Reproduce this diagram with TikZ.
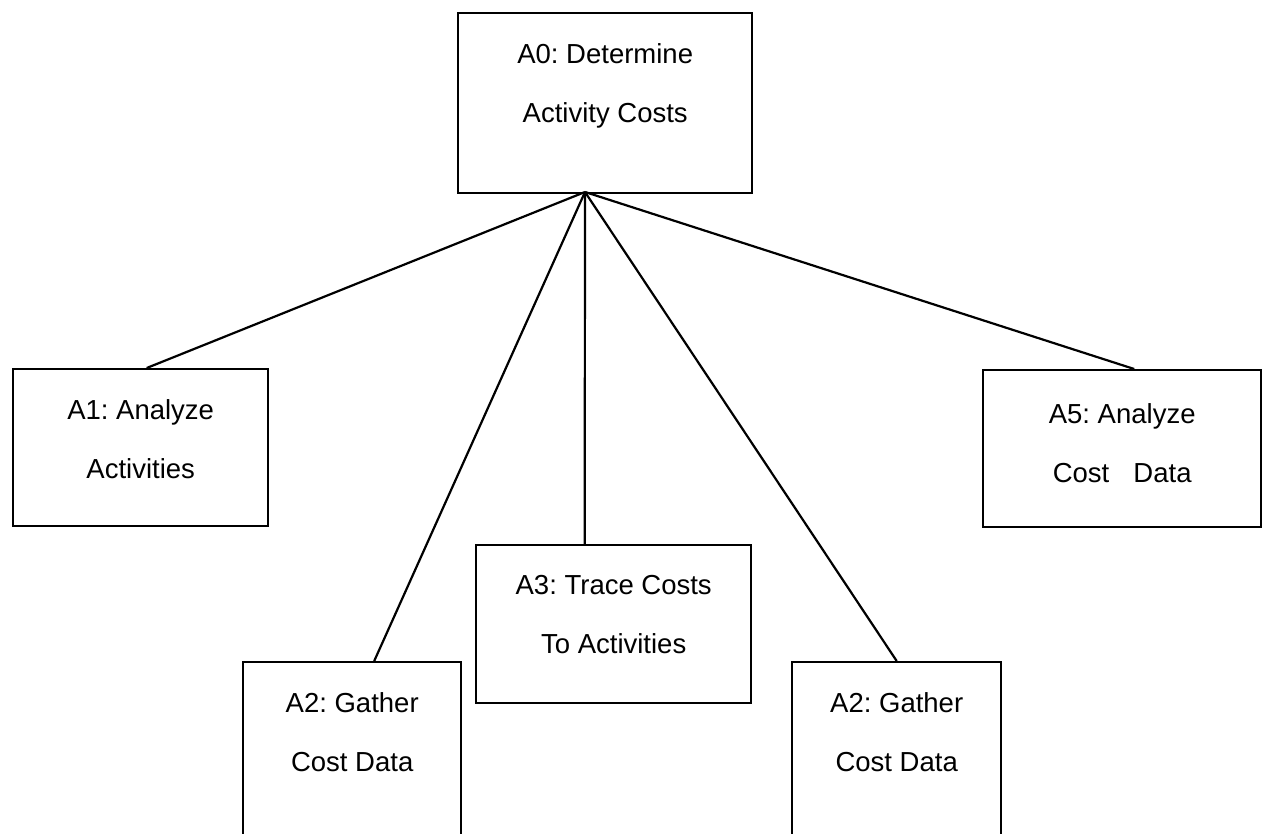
\documentclass[tikz,border=0pt]{standalone}
\usepackage{fontspec}
\setmainfont{Liberation Sans}
\usetikzlibrary{positioning}

\tikzset{
	task/.style={draw,line width=2.4pt,anchor=north west,inner sep=0pt},
	tasktext/.style={anchor=north,align=center,inner sep=0pt,font=\fontsize{27.5}{59}\selectfont\frenchspacing},
	link/.style={line width=2.2pt}
}

\begin{document}
\begin{tikzpicture}[x=1pt,y=-1pt]
			\useasboundingbox (0,0) rectangle (1263,833);
			\clip (0,0) rectangle (1263,833);
			% boxes
			\node[task,minimum width=294,minimum height=180] (a0) at (457,12) {};
			\node[task,minimum width=255,minimum height=157] (a1) at (12,368) {};
			\node[task,minimum width=218,minimum height=200] (a2l) at (242,661) {};
			\node[task,minimum width=275,minimum height=158] (a3) at (475,544) {};
			\node[task,minimum width=209,minimum height=200] (a2r) at (791,661) {};
			\node[task,minimum width=278,minimum height=157] (a5) at (982,369) {};
			% texts
			\node[tasktext,below=31pt of a0.north] (a0text) {A0: Determine\\Activity Costs};
			\node[tasktext,below=31pt of a1.north] (a1text) {A1: Analyze\\Activities};
			\node[tasktext,below=31pt of a2l.north] (a2ltext) {A2: Gather\\Cost Data};
			\node[tasktext,below=31pt of a3.north] (a3text) {A3: Trace Costs\\To Activities};
			\node[tasktext,below=31pt of a2r.north] (a2rtext) {A2: Gather\\Cost Data};
			\node[tasktext,below=34pt of a5.north] (a5text) {A5: Analyze\\Cost\hspace{0.6em} Data};
			% links
			\coordinate (hub) at (585,192);
			\draw[link] (hub)--([xshift=6]a1.north);
			\draw[link] (hub)--([xshift=22]a2l.north);
			\draw[link] (hub)--([xshift=-29]a3.north);
			\draw[link] (hub)--(a2r.north);
			\draw[link] (hub)--([xshift=12]a5.north);
		\end{tikzpicture}
\end{document}
